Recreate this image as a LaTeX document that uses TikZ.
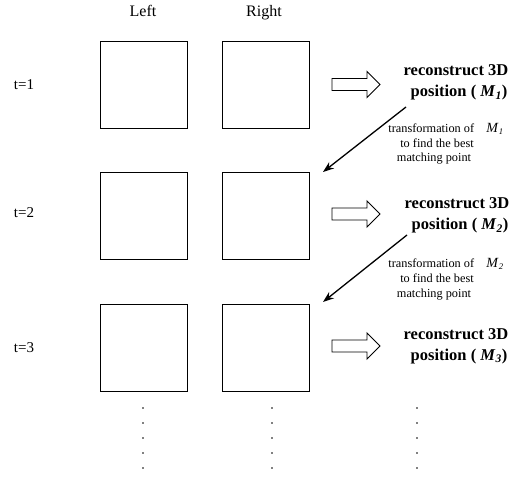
\documentclass[tikz,border=0pt]{standalone}
\usepackage{fontspec}
\setmainfont{Liberation Serif}
\usetikzlibrary{arrows.meta}
\begin{document}
\begin{tikzpicture}[x=1pt,y=-1pt,
  frame/.style={draw,line width=1pt,minimum width=87pt,minimum height=87pt,inner sep=0pt,anchor=north west},
  lbl/.style={font=\fontsize{16}{18}\selectfont,anchor=base,inner sep=0pt},
  tlbl/.style={font=\fontsize{15}{17}\selectfont,anchor=base,inner sep=0pt},
  bigtxt/.style={font=\fontsize{16.5}{19}\selectfont\bfseries,anchor=base,inner sep=0pt},
  smalltxt/.style={font=\fontsize{12.3}{14}\selectfont,anchor=base,inner sep=0pt},
  hollow/.style={draw,line width=0.9pt,line join=miter},
  diag/.style={line width=1.3pt,-{Stealth[length=11pt,width=8pt]}},
  dot/.style={fill,circle,inner sep=0pt,minimum size=1.8pt}]
\useasboundingbox (0,0) rectangle (511,478);
% column labels
\node[lbl] (left) at (143,17) {Left};
\node[lbl] (right) at (264,17) {Right};
% time labels
\node[tlbl] (t1) at (24,90) {t=1};
\node[tlbl] (t2) at (24,218) {t=2};
\node[tlbl] (t3) at (24,352) {t=3};
% frames
\node[frame] (L1) at (100,41) {};
\node[frame] (R1) at (222,41) {};
\node[frame] (L2) at (100,172) {};
\node[frame] (R2) at (222,172) {};
\node[frame] (L3) at (100,304) {};
\node[frame] (R3) at (222,304) {};
% hollow arrows
\foreach \c in {84.5,214,346}{
  \draw[hollow] (332,\c-6) -- (367,\c-6) -- (367,\c-13) -- (380,\c) -- (367,\c+13) -- (367,\c+6) -- (332,\c+6) -- cycle;
}
% reconstruct texts
\node[bigtxt] (rec1) at (456,76) {reconstruct 3D};
\node[bigtxt] (pos1) at (459,97) {position ( \textit{M}\textsubscript{\textit{1}})};
\node[bigtxt] (rec2) at (457,209) {reconstruct 3D};
\node[bigtxt] (pos2) at (460,230) {position ( \textit{M}\textsubscript{\textit{2}})};
\node[bigtxt] (rec3) at (456,339) {reconstruct 3D};
\node[bigtxt] (pos3) at (459,360) {position ( \textit{M}\textsubscript{\textit{3}})};
% transformation texts
\node[smalltxt] (tr1a) at (446,133) {transformation of\quad\textit{\fontsize{14}{14}\selectfont M}\textsubscript{\textit{1}}};
\node[smalltxt] (tr1b) at (437,148) {to find the best};
\node[smalltxt] (tr1c) at (434,162) {matching point};
\node[smalltxt] (tr2a) at (446,268) {transformation of\quad\textit{\fontsize{14}{14}\selectfont M}\textsubscript{\textit{2}}};
\node[smalltxt] (tr2b) at (437,283) {to find the best};
\node[smalltxt] (tr2c) at (434,298) {matching point};
% diagonal arrows
\coordinate (a1s) at (406,107);
\coordinate (a1e) at (323,172);
\coordinate (a2s) at (407,235);
\coordinate (a2e) at (323,302);
\draw[diag] (a1s) -- (a1e);
\draw[diag] (a2s) -- (a2e);
% dots
\foreach \y [count=\i] in {408,423,438,453,468}{
  \node[dot] (dl\i) at (143,\y) {};
  \node[dot] (dm\i) at (272,\y) {};
  \node[dot] (dr\i) at (417,\y) {};
}
\end{tikzpicture}
\end{document}
